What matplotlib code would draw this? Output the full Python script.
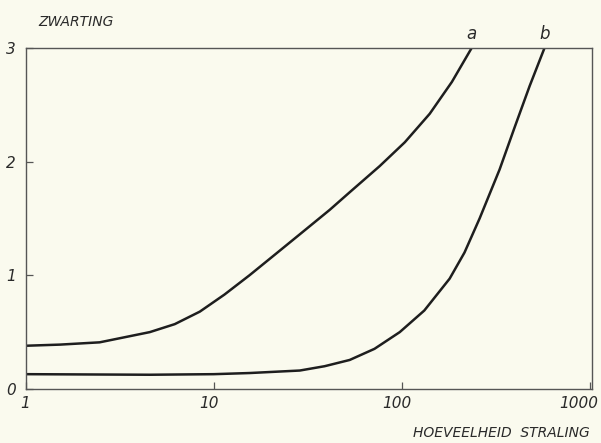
import matplotlib.pyplot as plt
import matplotlib.transforms as mtransforms

# curve a
a_x = [1, 1.52, 2.47, 4.57, 6.2, 8.43, 11.4, 15.5, 21.1, 28.7, 41.4, 52.9, 76.4, 104, 141, 185, 236]
a_y = [0.38, 0.39, 0.41, 0.50, 0.57, 0.68, 0.83, 1.0, 1.18, 1.36, 1.575, 1.73, 1.96, 2.17, 2.42, 2.70, 3.0]

# curve b
b_x = [1, 4.57, 10, 15.5, 28.7, 38.9, 52.9, 71.7, 97.7, 132, 180, 216, 260, 332, 399, 480, 576]
b_y = [0.13, 0.125, 0.13, 0.14, 0.162, 0.20, 0.255, 0.353, 0.50, 0.69, 0.97, 1.20, 1.50, 1.93, 2.30, 2.665, 3.0]

x_ticks = [1, 10, 100, 1000]
x_labels = ["1", "10", "100", "1000"]
label_shift = [-1, -5, -5, -11]   # px, lettering sits left of the ticks
y_ticks = [0, 1, 2, 3]

paper = "#fafaee"
ink = "#1e1e1e"
txt = dict(style="italic", color="#2a2a2a")

fig = plt.figure(figsize=(6.01, 4.43), dpi=100, facecolor=paper)
ax = fig.add_axes([0.043, 0.122, 0.942, 0.770])
ax.set_facecolor(paper)

ax.plot(a_x, a_y, color=ink, lw=1.8, solid_capstyle="round", solid_joinstyle="round")
ax.plot(b_x, b_y, color=ink, lw=1.8, solid_capstyle="round", solid_joinstyle="round")

ax.set_xscale("log")
ax.set_xlim(1, 1030)
ax.set_ylim(0, 3)
ax.set_xticks(x_ticks)
ax.set_xticklabels(x_labels, fontsize=11, **txt)
ax.xaxis.set_minor_locator(plt.NullLocator())
ax.set_yticks(y_ticks)
ax.set_yticklabels([str(v) for v in y_ticks], fontsize=11, **txt)
ax.tick_params(direction="in", length=5, width=0.9, color="#555555")
ax.tick_params(axis="x", pad=5)
ax.tick_params(axis="y", pad=7)

for lab, dx in zip(ax.get_xticklabels(), label_shift):
    lab.set_transform(lab.get_transform() + mtransforms.ScaledTranslation(dx / 100, 0, fig.dpi_scale_trans))

for s in ax.spines.values():
    s.set_color("#555555")
    s.set_linewidth(1.0)

ax.text(a_x[-1], 3.04, "a", ha="center", va="bottom", fontsize=12, **txt)
ax.text(b_x[-1], 3.04, "b", ha="center", va="bottom", fontsize=12, **txt)

fig.text(0.064, 0.95, "ZWARTING", ha="left", va="center", fontsize=10, **txt)
fig.text(0.982, 0.022, "HOEVEELHEID  STRALING", ha="right", va="center", fontsize=10, **txt)

fig.savefig("out.png", dpi=100, facecolor=paper)
